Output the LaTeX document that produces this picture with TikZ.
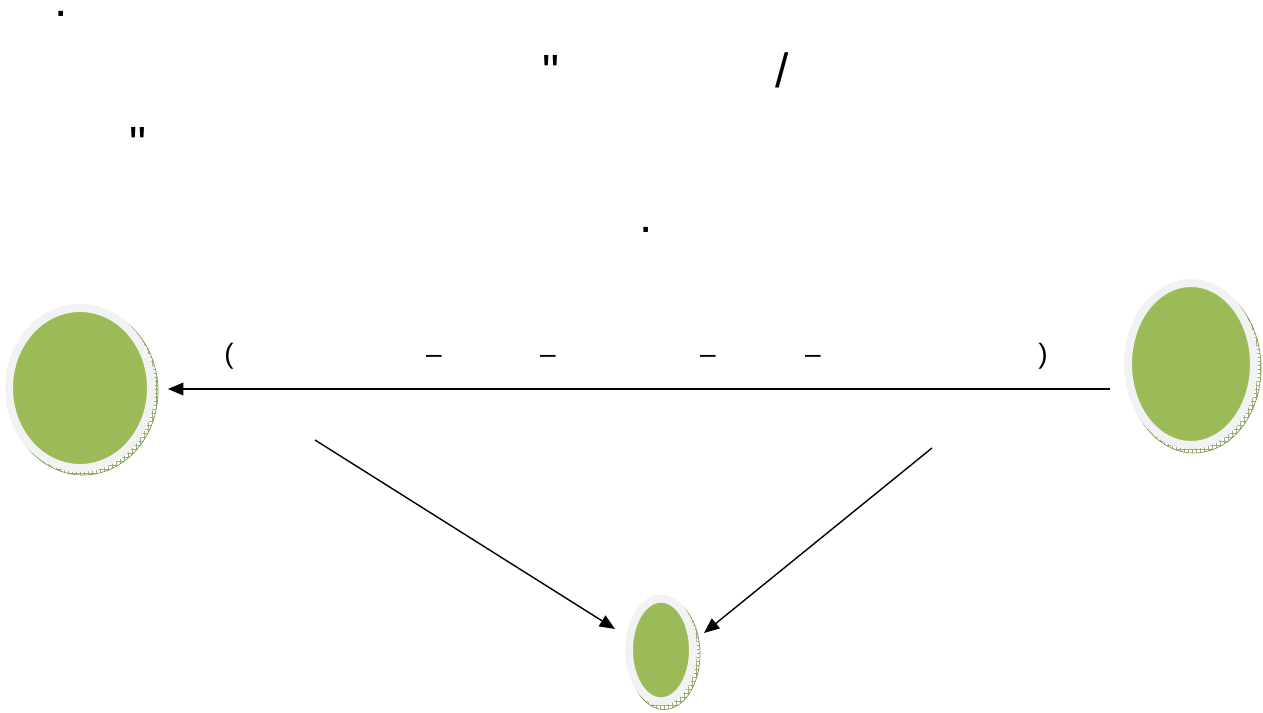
\documentclass[tikz,border=0pt]{standalone}
\usepackage{fontspec}
\newfontfamily\glyphfont{Liberation Sans}
\usepackage{tikz}
\usetikzlibrary{arrows.meta, shapes.geometric, patterns}
\definecolor{discGreen}{RGB}{155,187,89}
\definecolor{discRing}{RGB}{242,242,242}
\definecolor{discRim}{RGB}{100,128,50}

\begin{document}
\begin{tikzpicture}[x=0.75pt,y=-0.75pt,
  disc/.style={ellipse,draw=discRing,line width=6pt,fill=discGreen,
               inner sep=0pt,outer sep=0pt},
  rim/.style={ellipse,draw=discRim!85,line width=0.5pt,inner sep=0pt,
              pattern=grid,pattern color=discRim!65},
  arr/.style={-{Triangle[length=11.5pt,width=9.5pt]},line width=1.05pt,draw=black},
  glyph/.style={anchor=base,inner sep=0pt,font=\glyphfont\fontsize{36}{40}\selectfont},
  sglyph/.style={anchor=base,inner sep=0pt,font=\glyphfont\fontsize{21}{25}\selectfont}]

\useasboundingbox (0,0) rectangle (1263,713);

% edges of the discs
\node[rim,minimum width=112.5pt,minimum height=126pt] (LfR) at (83,391) {};
\node[rim,minimum width=100.5pt,minimum height=127.5pt] (RtR) at (1194,368) {};
\node[rim,minimum width=54pt,minimum height=83.25pt] (BtR) at (664,654) {};

\node[disc,minimum width=106.5pt,minimum height=120pt] (Lf) at (80,388) {};
\node[disc,minimum width=94.5pt,minimum height=121.5pt] (Rt) at (1191,364) {};
\node[disc,minimum width=48pt,minimum height=77pt] (Bt) at (661,650) {};

\coordinate (hS) at (1110,389);
\coordinate (hE) at (168,389);
\coordinate (dA) at (315,440);
\coordinate (dB) at (932,448);
\coordinate (tA) at (615,629);
\coordinate (tB) at (704,633);

\draw[arr] (hS) -- (hE);
\draw[arr] (dA) -- (tA);
\draw[arr] (dB) -- (tB);

\node[glyph] (dotA) at (61,17) {.};
\node[glyph] (qtA) at (551,89) {"};
\node[glyph] (slash) at (782,88) {/};
\node[glyph] (qtB) at (138.5,161) {"};
\node[glyph] (dotB) at (646,232) {.};

\node[sglyph] (parL) at (229,363) {(};
\foreach \x/\n in {434/dsA,548/dsB,708/dsC,813/dsD}
  \node[sglyph] (\n) at (\x,363) {–};
\node[sglyph] (parR) at (1043,363) {)};
\end{tikzpicture}
\end{document}
